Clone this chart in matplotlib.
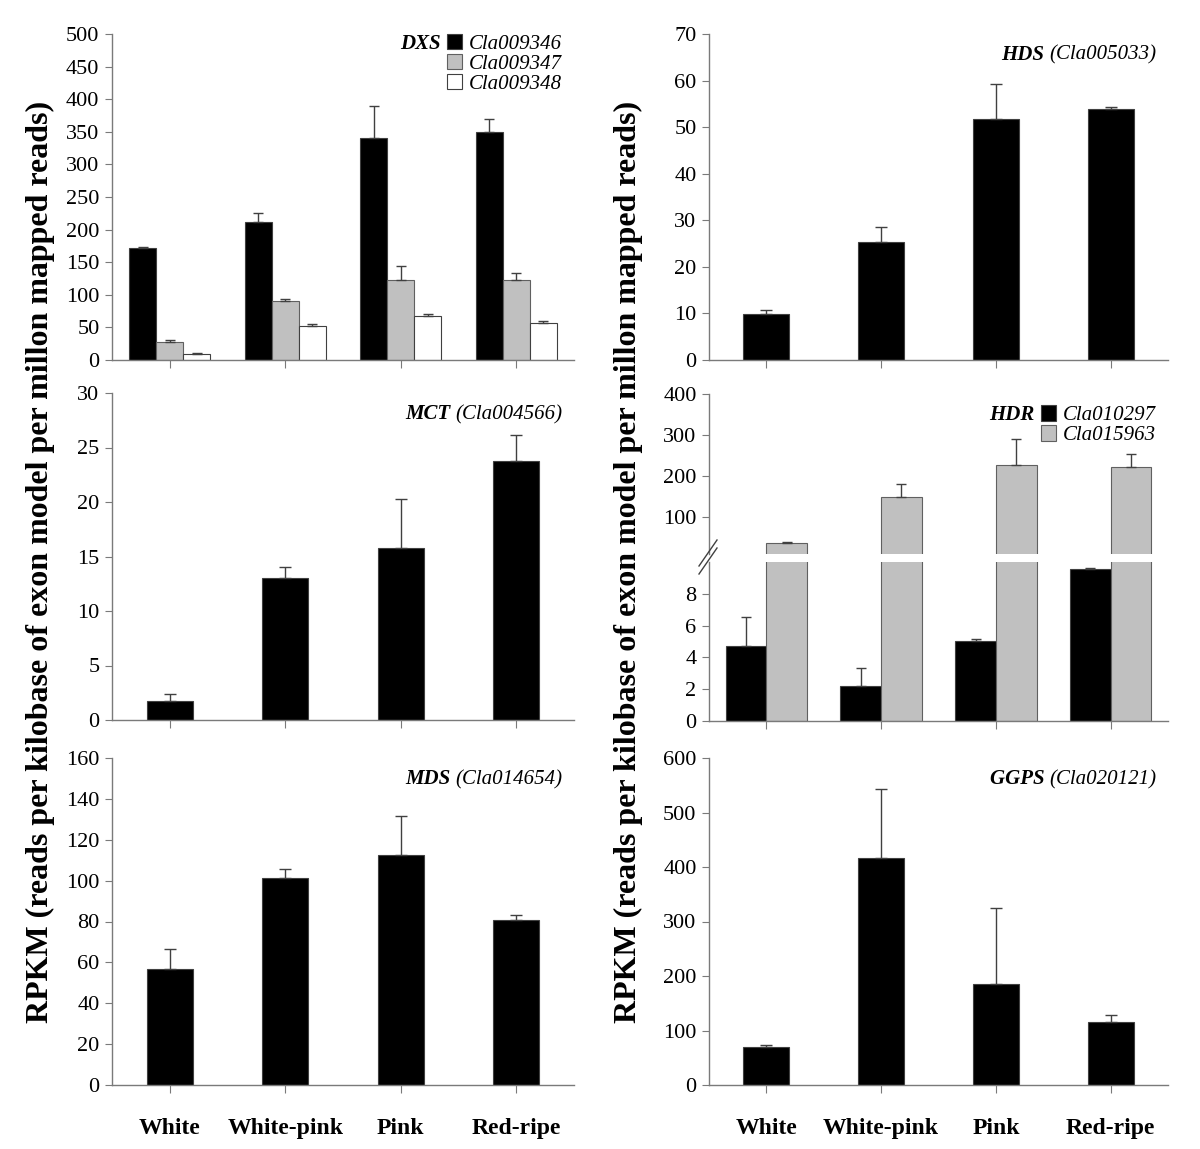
"RPKM bar panels for MEP pathway genes"
import matplotlib
matplotlib.use('Agg')
from matplotlib import pyplot as plt
from matplotlib.patches import Patch
from matplotlib.lines import Line2D
from matplotlib.ticker import MultipleLocator, FixedLocator
import numpy as np

plt.rcParams['font.family'] = ['Liberation Serif', 'DejaVu Serif']

stages = ['White', 'White-pink', 'Pink', 'Red-ripe']

# DXS, three genes
dxs_names = ['Cla009346', 'Cla009347', 'Cla009348']
dxs_vals = [[172, 211, 341, 349], [27, 91, 122, 122], [9, 52, 67, 57]]
dxs_err = [[1.5, 14, 49, 20], [3, 2.5, 22, 11], [2.5, 3.5, 3, 3]]

hds_vals = [9.9, 25.4, 51.7, 54.0]
hds_err = [0.8, 3.2, 7.6, 0.3]

mct_vals = [1.74, 13.0, 15.8, 23.8]
mct_err = [0.6, 1.07, 4.5, 2.35]

# HDR, two genes (broken axis)
hdr_names = ['Cla010297', 'Cla015963']
hdr_vals = [[4.74, 2.19, 5.03, 9.58], [38, 149, 228, 223]]
hdr_err = [[1.8, 1.15, 0.15, 0.05], [3, 32, 63, 31]]

mds_vals = [56.9, 101.3, 112.6, 80.7]
mds_err = [9.7, 4.4, 19.1, 2.6]

ggps_vals = [69, 416, 185, 116]
ggps_err = [4.3, 127, 139, 12.2]

ylabel = 'RPKM (reads per kilobase of exon model per millon mapped reads)'

BLACK = '#000000'
GREY = '#c0c0c0'
AXC = '#7a7a7a'
TICK_FS = 16
CAT_FS = 17
TXT_FS = 15

fig = plt.figure(figsize=(12, 11.49), dpi=100)

W = 1200.0
H = 1149.0


def px_axes(x0, x1, ytop, ybot):
    return fig.add_axes([x0 / W, 1 - ybot / H, (x1 - x0) / W, (ybot - ytop) / H])


def style(ax, step, ymax, ymin=0, labels=False, bottom=True):
    for s in ['top', 'right']:
        ax.spines[s].set_visible(False)
    for s in ['left', 'bottom']:
        ax.spines[s].set_color(AXC)
        ax.spines[s].set_linewidth(1.0)
    ax.set_xlim(-0.5, 3.5)
    ax.set_ylim(ymin, ymax)
    ax.yaxis.set_major_locator(MultipleLocator(step))
    ax.tick_params(axis='y', direction='out', length=5, color=AXC,
                   labelsize=TICK_FS, pad=4)
    ax.set_xticks(range(len(stages)))
    if labels:
        ax.set_xticklabels(stages, fontsize=CAT_FS, fontweight='bold')
    else:
        ax.set_xticklabels([])
    ax.tick_params(axis='x', direction='out', length=6, color=AXC, pad=18)
    if not bottom:
        ax.spines['bottom'].set_visible(False)
        ax.tick_params(axis='x', length=0)


def gene_title(ax, gene, cla, y=0.905):
    t = ax.text(0.975, y, '(' + cla + ')', transform=ax.transAxes, ha='right',
                va='bottom', style='italic', fontsize=TXT_FS)
    ax.annotate(gene + ' ', xy=(0, 0), xycoords=t, ha='right', va='bottom',
                style='italic', fontweight='bold', fontsize=TXT_FS)


def single_bars(ax, vals, err):
    x = np.arange(len(vals))
    ax.bar(x, vals, width=0.4, color=BLACK, edgecolor='#404040', linewidth=0.8,
           yerr=[np.zeros(len(err)), err], capsize=4,
           error_kw=dict(ecolor='#404040', elinewidth=1, capthick=1))


def legend_with_gene(ax, handles, names, gene, anchor):
    leg = ax.legend(handles, names, loc='upper right', bbox_to_anchor=anchor,
                    frameon=False, prop=dict(style='italic', size=TXT_FS),
                    handlelength=0.75, handleheight=0.75, handletextpad=0.3,
                    labelspacing=0.0, borderpad=0.2)
    ax.annotate(gene, xy=(0, 0), xycoords=leg.get_texts()[0], xytext=(-20, 0),
                textcoords='offset points', ha='right', va='bottom',
                style='italic', fontweight='bold', fontsize=TXT_FS, zorder=10)
    return leg


ekw = dict(ecolor='#404040', elinewidth=1, capthick=1)

# ---- DXS ----
ax1 = px_axes(112, 574, 34, 360)
x = np.arange(len(stages))
bw = 0.235
fills = [BLACK, GREY, 'white']
edges = ['#404040', '#606060', '#404040']
for i in range(3):
    ax1.bar(x + (i - 1) * bw, dxs_vals[i], width=bw, color=fills[i],
            edgecolor=edges[i], linewidth=0.8,
            yerr=[np.zeros(4), dxs_err[i]], capsize=3.5, error_kw=ekw)
style(ax1, 50, 500)
handles = [Patch(facecolor=fills[i], edgecolor=edges[i], linewidth=0.8)
           for i in range(3)]
legend_with_gene(ax1, handles, dxs_names, 'DXS', (1.005, 1.045))

# ---- HDS ----
ax2 = px_axes(709, 1168, 34, 360)
single_bars(ax2, hds_vals, hds_err)
style(ax2, 10, 70)
gene_title(ax2, 'HDS', 'Cla005033')

# ---- MCT ----
ax3 = px_axes(112, 574, 393, 720)
single_bars(ax3, mct_vals, mct_err)
style(ax3, 5, 30)
gene_title(ax3, 'MCT', 'Cla004566')

# ---- HDR (broken axis) ----
ax4u = px_axes(709, 1168, 394, 554)
ax4l = px_axes(709, 1168, 562, 721)
hw = 0.355
hfill = [BLACK, GREY]
hedge = ['#404040', '#606060']
for axx in (ax4u, ax4l):
    for i in range(2):
        # the small black series gets its error bars only below the break
        show_err = not (axx is ax4u and i == 0)
        kw = dict(yerr=[np.zeros(4), hdr_err[i]], capsize=3.5, error_kw=ekw) if show_err else {}
        axx.bar(x + (i - 0.5) * hw, hdr_vals[i], width=hw, color=hfill[i],
                edgecolor=hedge[i], linewidth=0.8, **kw)
style(ax4u, 100, 400, ymin=11, bottom=False)
style(ax4l, 2, 10)
ax4l.yaxis.set_major_locator(FixedLocator([0, 2, 4, 6, 8]))
hh = [Patch(facecolor=hfill[i], edgecolor=hedge[i], linewidth=0.8) for i in range(2)]
legend_with_gene(ax4u, hh, hdr_names, 'HDR', (1.005, 1.02))
# break marks
bx = 709 / W
for dy in (0, 8):
    y0 = 1 - (574 - dy) / H
    fig.add_artist(Line2D([bx - 10 / W, bx + 8 / W], [y0, y0 + 26 / H],
                          color='#404040', linewidth=1.0))

# ---- MDS ----
ax5 = px_axes(112, 574, 758, 1085)
single_bars(ax5, mds_vals, mds_err)
style(ax5, 20, 160, labels=True)
gene_title(ax5, 'MDS', 'Cla014654')

# ---- GGPS ----
ax6 = px_axes(709, 1168, 758, 1085)
single_bars(ax6, ggps_vals, ggps_err)
style(ax6, 100, 600, labels=True)
gene_title(ax6, 'GGPS', 'Cla020121')

fig.text(40 / W, 1 - 562 / H, ylabel, rotation=90, ha='center', va='center',
         fontsize=23, fontweight='bold')
fig.text(628 / W, 1 - 562 / H, ylabel, rotation=90, ha='center', va='center',
         fontsize=23, fontweight='bold')

plt.savefig('out.png', dpi=100)
